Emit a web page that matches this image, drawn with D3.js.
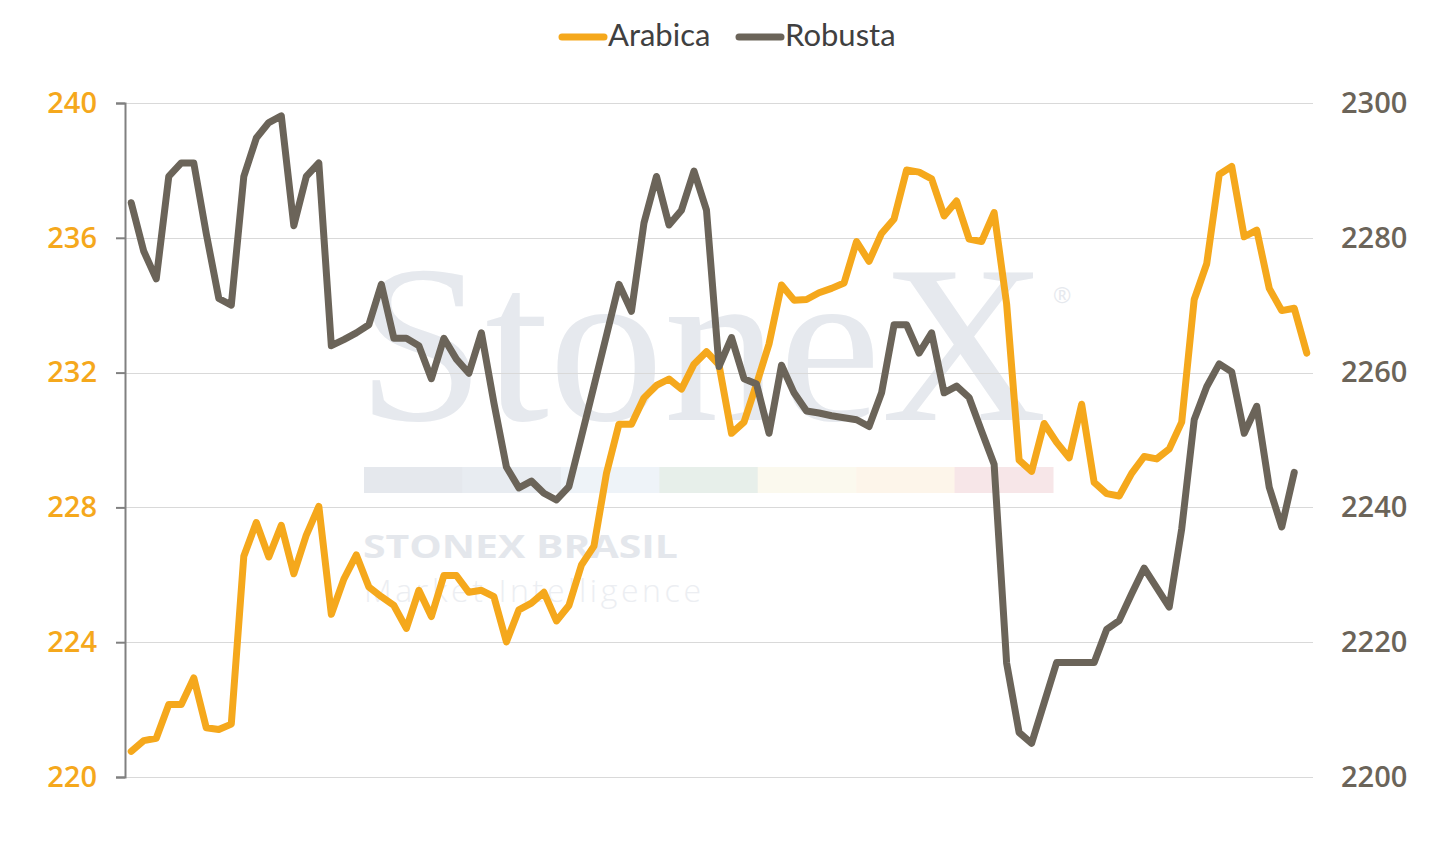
<!DOCTYPE html>
<html>
<head>
<meta charset="utf-8">
<script src="https://cdn.jsdelivr.net/npm/d3@7"></script>
<style>
    body { margin: 0; background: #ffffff; }
    svg { display: block; }
</style>
</head>
<body>
<div id="chart"></div>
<script>

// daily points, no labels shown on the x axis
var days = d3.range(95);

var arabica = [
    220.76, 221.08, 221.15, 222.15, 222.15, 222.94, 221.46, 221.41, 221.57, 226.55,
    227.55, 226.53, 227.47, 226.03, 227.18, 228.03, 224.83, 225.87, 226.59, 225.64,
    225.35, 225.09, 224.41, 225.54, 224.76, 225.98, 225.98, 225.48, 225.54, 225.35,
    224.01, 224.96, 225.16, 225.48, 224.63, 225.09, 226.29, 226.85, 229.01, 230.47,
    230.47, 231.25, 231.62, 231.81, 231.51, 232.25, 232.62, 232.23, 230.20, 230.53,
    231.66, 232.85, 234.60, 234.15, 234.17, 234.37, 234.50, 234.66, 235.89, 235.30,
    236.13, 236.56, 238.01, 237.95, 237.75, 236.65, 237.09, 235.96, 235.89, 236.75,
    234.04, 229.40, 229.07, 230.49, 229.93, 229.47, 231.06, 228.74, 228.41, 228.34,
    229.01, 229.51, 229.44, 229.73, 230.53, 234.17, 235.23, 237.88, 238.12, 236.03,
    236.23, 234.50, 233.84, 233.91, 232.58
];

var robusta = [
    2285.2, 2278.0, 2273.9, 2289.1, 2291.1, 2291.1, 2280.6, 2271.0, 2270.0, 2289.1,
    2294.8, 2297.1, 2298.1, 2281.8, 2289.1, 2291.1, 2264.0, 2264.9, 2265.9, 2267.1,
    2273.1, 2265.1, 2265.1, 2264.0, 2259.1, 2265.1, 2262.0, 2259.9, 2265.9, 2255.5,
    2246.0, 2242.9, 2243.9, 2242.1, 2241.1, 2243.1, 2250.5, 2258.0, 2265.5, 2273.1,
    2269.1, 2282.2, 2289.1, 2281.9, 2284.1, 2289.9, 2284.1, 2260.9, 2265.2, 2259.1,
    2258.3, 2251.0, 2261.1, 2257.0, 2254.3, 2254.0, 2253.6, 2253.3, 2253.0, 2252.0,
    2257.0, 2267.1, 2267.1, 2262.9, 2265.9, 2257.0, 2258.0, 2256.3, 2251.3, 2246.4,
    2216.9, 2206.6, 2205.0, 2211.0, 2217.0, 2217.0, 2217.0, 2217.0, 2221.9, 2223.2,
    2227.2, 2231.0, 2228.1, 2225.2, 2236.8, 2253.0, 2257.9, 2261.3, 2260.1, 2251.0,
    2255.0, 2243.0, 2237.1, 2245.2, null
];

var leftTicks = [220, 224, 228, 232, 236, 240];
var rightTicks = [2200, 2220, 2240, 2260, 2280, 2300];

var seriesNames = ["Arabica", "Robusta"];
var brandBand = ["#e5e8ed", "#e8ecf1", "#eef3f8", "#e7efea", "#fbf9ee", "#fdf5ea", "#f7e6e8"];

var width = 1453, height = 842;
var margin = {top: 103, right: 140, bottom: 65, left: 125};
var orange = "#f5a81c", grey = "#6b6459";

var svg = d3.select("#chart").append("svg")
    .attr("width", width)
    .attr("height", height);

var x = d3.scalePoint()
    .domain(days)
    .range([margin.left, width - margin.right])
    .padding(0.5);

var yLeft = d3.scaleLinear()
    .domain([220, 240])
    .range([height - margin.bottom, margin.top]);

var yRight = d3.scaleLinear()
    .domain([2200, 2300])
    .range([height - margin.bottom, margin.top]);

// watermark behind everything
function drawWatermark() {
    var wm = svg.append("g").attr("class", "watermark");

    wm.append("text")
        .attr("x", 357)
        .attr("y", 420)
        .attr("textLength", 690)
        .attr("lengthAdjust", "spacingAndGlyphs")
        .style("font-family", "'Liberation Serif', 'DejaVu Serif', serif")
        .style("font-size", "224px")
        .style("fill", "#e6e9ee")
        .text("StoneX");

    wm.append("text")
        .attr("x", 1053)
        .attr("y", 303)
        .style("font-family", "'Open Sans', sans-serif")
        .style("font-size", "22px")
        .style("fill", "#e6e9ee")
        .text("®");

    var band = d3.scaleBand()
        .domain(d3.range(brandBand.length))
        .range([364, 1053]);

    wm.selectAll("rect")
        .data(brandBand)
        .enter().append("rect")
        .attr("x", function (d, i) { return band(i); })
        .attr("y", 467)
        .attr("width", band.bandwidth() + 0.5)
        .attr("height", 26)
        .style("fill", function (d) { return d; });

    wm.append("text")
        .attr("x", 363)
        .attr("y", 558)
        .attr("textLength", 315)
        .attr("lengthAdjust", "spacingAndGlyphs")
        .style("font-family", "'Open Sans', sans-serif")
        .style("font-weight", 700)
        .style("font-size", "33px")
        .style("fill", "#e4e7ec")
        .text("STONEX BRASIL");

    wm.append("text")
        .attr("x", 364)
        .attr("y", 602)
        .attr("textLength", 337)
        .style("font-family", "'Open Sans', sans-serif")
        .style("font-weight", 300)
        .style("font-size", "32px")
        .style("fill", "#eceef2")
        .text("Market Intelligence");
}

function drawGrid() {
    svg.append("g")
        .attr("class", "grid")
        .selectAll("line")
        .data(leftTicks)
        .enter().append("line")
        .attr("x1", margin.left)
        .attr("x2", width - margin.right)
        .attr("y1", function (d) { return Math.round(yLeft(d)) + 0.5; })
        .attr("y2", function (d) { return Math.round(yLeft(d)) + 0.5; })
        .style("stroke", "#d9d9d9")
        .style("stroke-width", 1);
}

function drawAxes() {
    var left = svg.append("g")
        .attr("transform", "translate(" + margin.left + ",0)")
        .call(d3.axisLeft(yLeft).tickValues(leftTicks).tickSize(9).tickPadding(19));

    left.select(".domain").style("stroke", "#808080").style("stroke-width", 2);
    left.selectAll(".tick line").style("stroke", "#808080").style("stroke-width", 2);
    left.selectAll("text")
        .style("font-family", "'Open Sans', sans-serif")
        .style("font-weight", 600)
        .style("font-size", "29px")
        .style("fill", orange);

    var right = svg.append("g")
        .attr("transform", "translate(" + (width - margin.right) + ",0)")
        .call(d3.axisRight(yRight).tickValues(rightTicks).tickFormat(d3.format("d"))
            .tickSize(0).tickPadding(28));

    right.select(".domain").remove();
    right.selectAll("text")
        .style("font-family", "'Open Sans', sans-serif")
        .style("font-weight", 600)
        .style("font-size", "29px")
        .style("fill", grey);
}

function drawLines() {
    var lineLeft = d3.line()
        .defined(function (d) { return d != null; })
        .x(function (d, i) { return x(days[i]); })
        .y(function (d) { return yLeft(d); });

    var lineRight = d3.line()
        .defined(function (d) { return d != null; })
        .x(function (d, i) { return x(days[i]); })
        .y(function (d) { return yRight(d); });

    svg.append("path")
        .datum(arabica)
        .attr("d", lineLeft)
        .style("fill", "none")
        .style("stroke", orange)
        .style("stroke-width", 7)
        .style("stroke-linejoin", "round")
        .style("stroke-linecap", "round");

    svg.append("path")
        .datum(robusta)
        .attr("d", lineRight)
        .style("fill", "none")
        .style("stroke", grey)
        .style("stroke-width", 7)
        .style("stroke-linejoin", "round")
        .style("stroke-linecap", "round");
}

function drawLegend() {
    var colors = [orange, grey];
    var starts = [560, 737];

    var item = svg.append("g")
        .attr("class", "legend")
        .selectAll("g")
        .data(seriesNames)
        .enter().append("g")
        .attr("transform", function (d, i) { return "translate(" + starts[i] + ",37)"; });

    item.append("line")
        .attr("x1", 2)
        .attr("x2", 44)
        .style("stroke", function (d, i) { return colors[i]; })
        .style("stroke-width", 7)
        .style("stroke-linecap", "round");

    item.append("text")
        .attr("x", 48)
        .attr("y", 9)
        .style("font-family", "Lato, sans-serif")
        .style("font-size", "31px")
        .style("fill", "#404040")
        .text(String);
}

drawWatermark();
drawGrid();
drawAxes();
drawLines();
drawLegend();

</script>
</body>
</html>
